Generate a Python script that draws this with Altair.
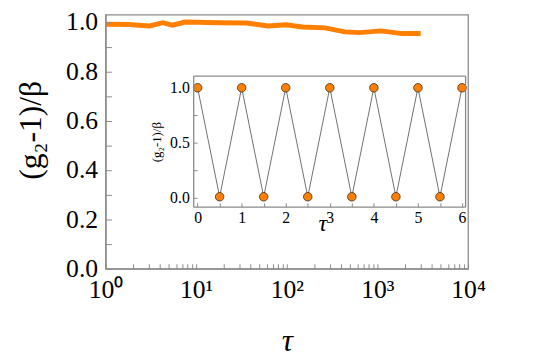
import altair as alt
import pandas as pd

# ---- data ----
main_tau = [1, 1.78, 3.08, 4.27, 5.48, 7.6, 17.8, 35.8, 62, 97.5, 149, 265, 437, 635, 1100, 1870, 3000]
main_g = [0.991, 0.990, 0.984, 0.997, 0.987, 1.0, 0.997, 0.996, 0.984, 0.989, 0.980, 0.976, 0.960, 0.957, 0.964, 0.953, 0.953]

inset_tau = [0, 0.5, 1, 1.5, 2, 2.5, 3, 3.5, 4, 4.5, 5, 5.5, 6]
inset_g = [1.0, 0.01, 1.0, 0.01, 1.0, 0.01, 1.0, 0.01, 1.0, 0.01, 1.0, 0.01, 1.0]

main_x_domain = [1, 10000]
main_y_domain = [0, 1.03]
main_x_labels = [1, 10, 100, 1000, 10000]
main_x_ticks = [m * 10 ** k for k in range(4) for m in range(1, 10)] + [10000]
main_y_labels = [0.0, 0.2, 0.4, 0.6, 0.8, 1.0]
main_y_ticks = [0.0, 0.1, 0.2, 0.3, 0.4, 0.5, 0.6, 0.7, 0.8, 0.9, 1.0]

inset_x_domain = [-0.1, 6.07]
inset_y_domain = [-0.08, 1.11]
inset_x_labels = [0, 1, 2, 3, 4, 5, 6]
inset_x_ticks = [0, 0.5, 1, 1.5, 2, 2.5, 3, 3.5, 4, 4.5, 5, 5.5, 6]
inset_y_labels = [0.0, 0.5, 1.0]
inset_y_ticks = [0.0, 0.25, 0.5, 0.75, 1.0]

# ---- layout / style ----
W, H = 368, 258
IX0, IX1 = 89, 365      # inset horizontal pixel range inside plot
IY0, IY1 = 195, 62      # inset vertical pixel range (bottom, top)
FONT = "'Liberation Serif', 'Times New Roman', Times, serif"
GRAY = "#8a8a8a"
ORANGE = "#ff8000"

main_df = pd.DataFrame({"tau": main_tau, "g": main_g})
inset_df = pd.DataFrame({"t": inset_tau, "g": inset_g})

mx = alt.Scale(type="log", domain=main_x_domain)
my = alt.Scale(domain=main_y_domain, nice=False)
ix = alt.Scale(domain=inset_x_domain, range=[IX0, IX1], nice=False, zero=False)
iy = alt.Scale(domain=inset_y_domain, range=[IY0, IY1], nice=False, zero=False)

sup = "['\u2070','\u00b9','\u00b2','\u00b3','\u2074'][round(log(datum.value)/LN10)]"
common = dict(labelFont=FONT, titleFont=FONT, labelColor="black", titleColor="black",
              labelFlush=False, labelOverlap=False, zindex=1, grid=False)


def tick_axis(orient, offset, values, size):
    return alt.Axis(orient=orient, offset=offset, values=values, labels=False, domain=False,
                    tickColor=GRAY, tickWidth=1, tickSize=size, title=None, zindex=1, grid=False)


def frame_axis(orient, offset):
    return alt.Axis(orient=orient, offset=offset, labels=False, ticks=False, domain=True,
                    domainColor=GRAY, domainWidth=1.3, title=None, zindex=1, grid=False)


main_line = alt.Chart(main_df).mark_line(color=ORANGE, strokeWidth=5).encode(
    x=alt.X("tau:Q", scale=mx, axis=alt.Axis(
        values=main_x_labels, labelExpr="'10' + " + sup, ticks=False,
        domainColor=GRAY, domainWidth=1.3, labelFontSize=26, labelPadding=8,
        title="\u03c4", titleFontSize=32, titleFontStyle="italic", titleFontWeight="normal",
        titleBaseline="alphabetic", titleX=W / 2, titleY=83, **common)),
    y=alt.Y("g:Q", scale=my, axis=alt.Axis(
        values=main_y_labels, format=".1f", ticks=False,
        domainColor=GRAY, domainWidth=1.3, labelFontSize=26, labelPadding=8,
        title="(g\u2082-1)/\u03b2", titleFontSize=32, titleFontWeight="normal",
        titleAngle=-90, titleBaseline="alphabetic", titleX=-66, titleY=117, **common)),
)

main_ticks = alt.Chart(main_df).mark_line(opacity=0).encode(
    x=alt.X("tau:Q", scale=mx, axis=tick_axis("top", -H, main_x_ticks, 5)),
    y=alt.Y("g:Q", scale=my, axis=tick_axis("right", -W, main_y_ticks, 6)),
)

ix_axis = alt.Axis(values=inset_x_labels, format="d", ticks=False, domain=True,
                   domainColor=GRAY, domainWidth=1.3,
                   offset=-(H - IY0), labelFontSize=16, labelPadding=3,
                   title="\u03c4", titleFontSize=24, titleFontStyle="italic", titleFontWeight="normal",
                   titleBaseline="alphabetic", titleX=220, titleY=24, **common)
iy_axis = alt.Axis(values=inset_y_labels, format=".1f", ticks=False, domain=True,
                   domainColor=GRAY, domainWidth=1.3,
                   offset=-IX0, labelFontSize=16, labelPadding=4,
                   title="(g\u2082-1)/\u03b2", titleFontSize=13, titleFontWeight="normal",
                   titleAngle=-90, titleBaseline="alphabetic", titleX=-33, titleY=129, **common)

inset_line = alt.Chart(inset_df).mark_line(color="#707070", strokeWidth=1).encode(
    x=alt.X("t:Q", scale=ix, axis=ix_axis),
    y=alt.Y("g:Q", scale=iy, axis=iy_axis),
)
inset_pts = alt.Chart(inset_df).mark_point(filled=True, fill=ORANGE, stroke="#3a2a1a",
                                            strokeWidth=0.8, size=75, opacity=1).encode(
    x=alt.X("t:Q", scale=ix, axis=ix_axis),
    y=alt.Y("g:Q", scale=iy, axis=iy_axis),
)
inset = alt.layer(inset_line, inset_pts)

inset_ticks = alt.Chart(inset_df).mark_line(opacity=0).encode(
    x=alt.X("t:Q", scale=ix, axis=tick_axis("top", -IY0, inset_x_ticks, 4)),
    y=alt.Y("g:Q", scale=iy, axis=tick_axis("right", -(W - IX0), inset_y_ticks, 4)),
)

inset_frame = alt.Chart(inset_df).mark_line(opacity=0).encode(
    x=alt.X("t:Q", scale=ix, axis=frame_axis("bottom", -(H - IY1))),
    y=alt.Y("g:Q", scale=iy, axis=frame_axis("left", -IX1)),
)

chart = alt.layer(main_line, main_ticks, inset, inset_ticks, inset_frame).resolve_scale(
    x="independent", y="independent"
).properties(
    width=W, height=H, autosize="none",
    padding={"left": 99, "top": 4, "right": 70, "bottom": 93},
).configure_view(stroke=GRAY, strokeWidth=1.3).configure_axis(
    labelFont=FONT, titleFont=FONT, labelColor="black", titleColor="black", grid=False
)

chart.save("out.html", embed_options={"renderer": "svg", "actions": False})
